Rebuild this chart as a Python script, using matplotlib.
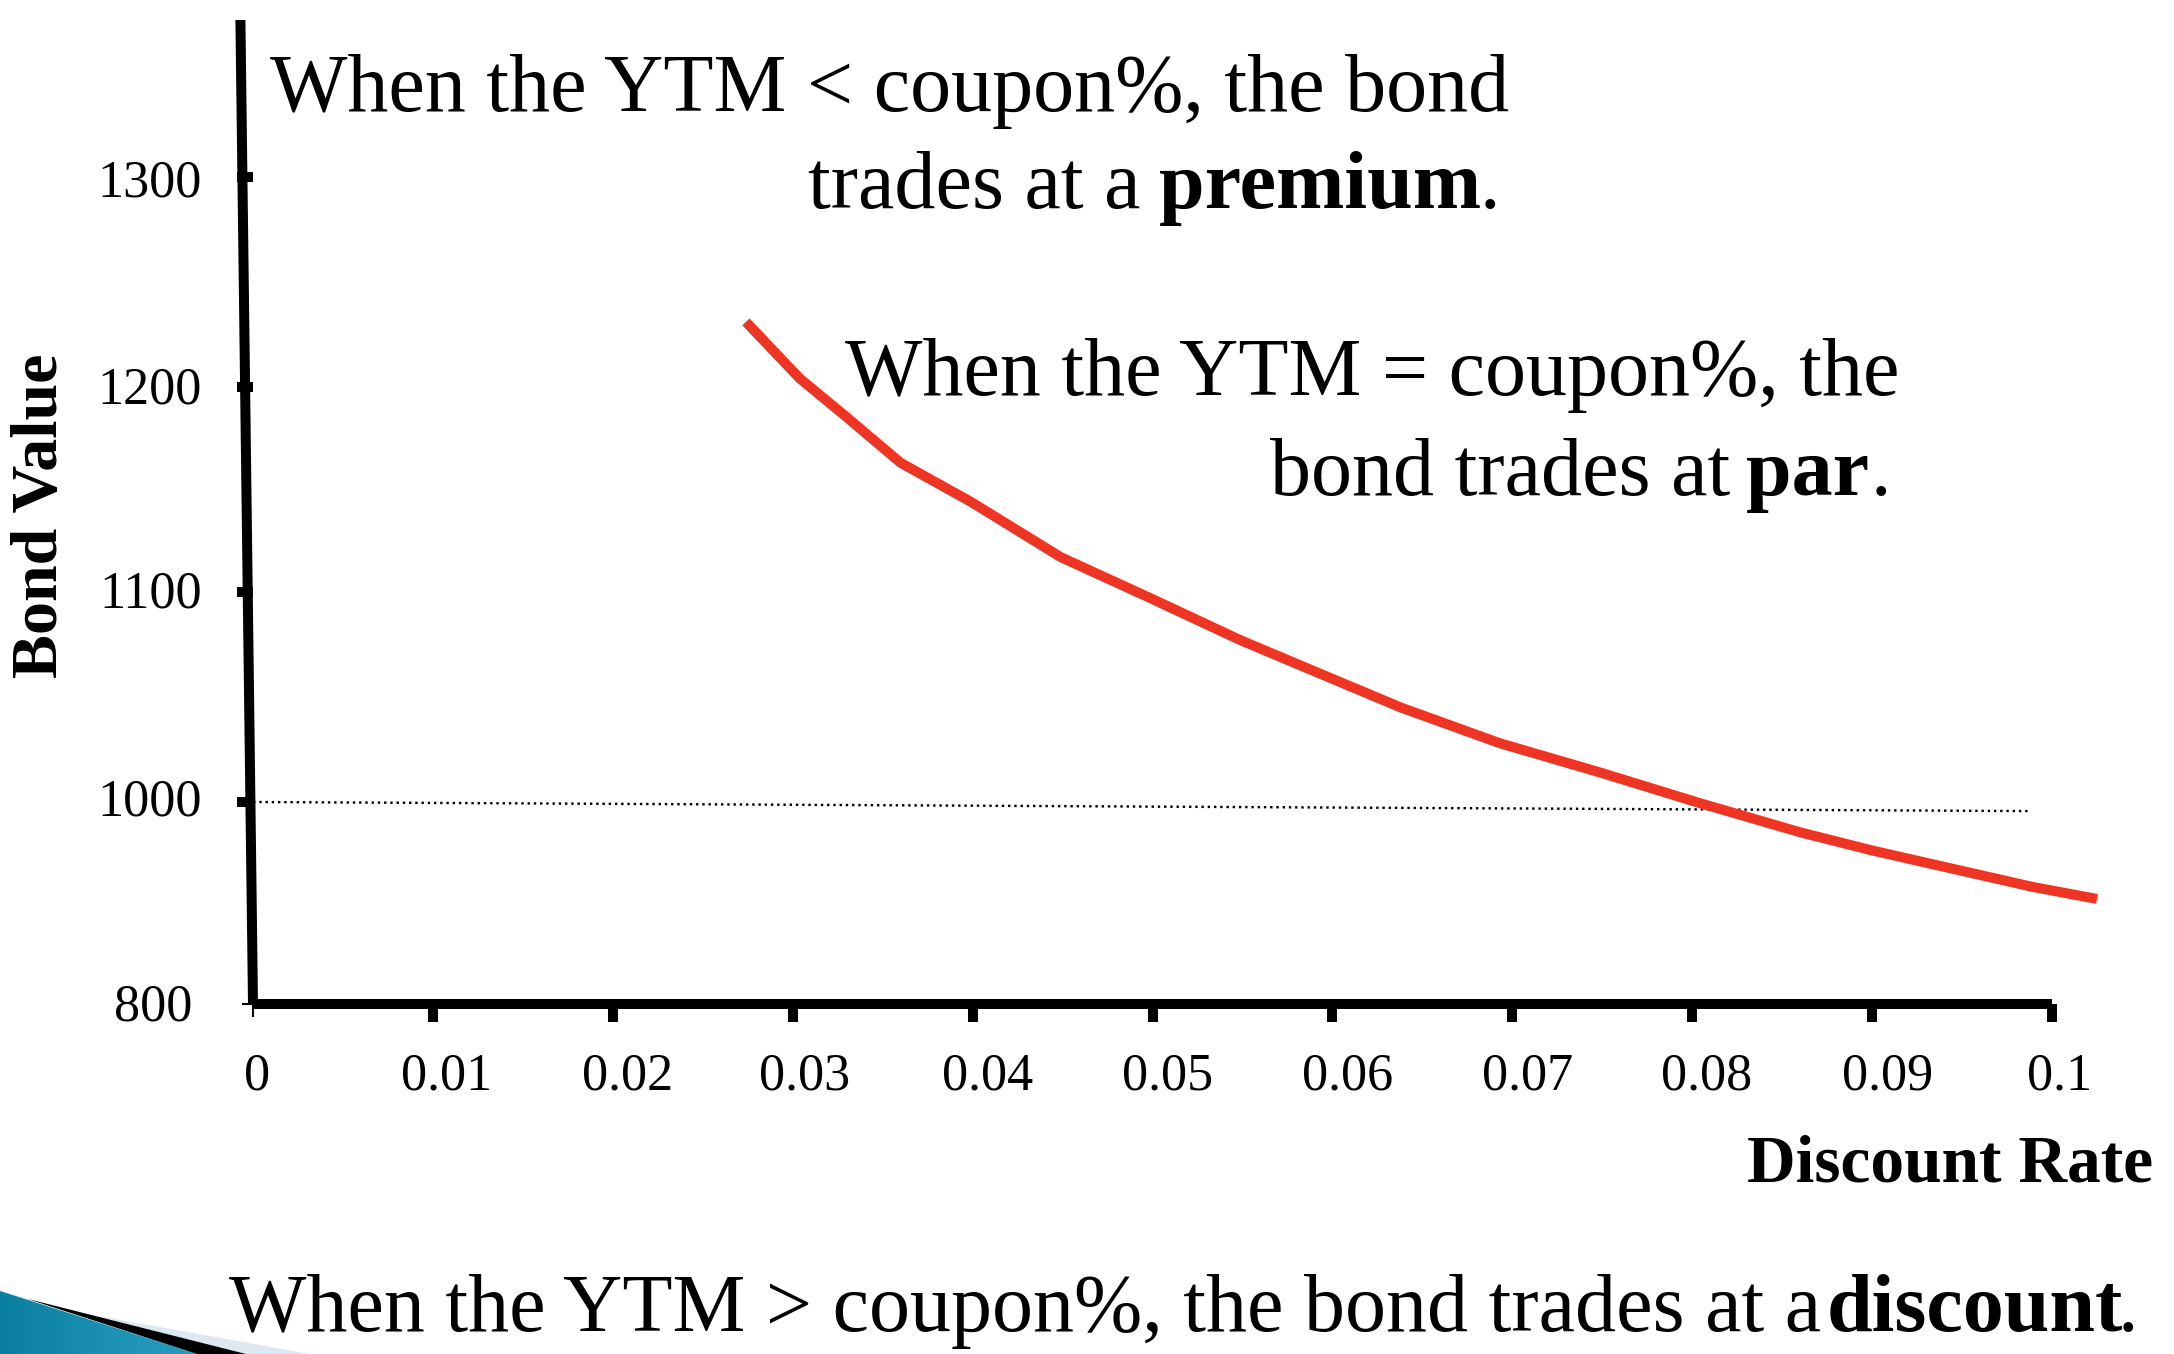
import matplotlib
matplotlib.use("Agg")
import matplotlib.pyplot as plt
import numpy as np
from matplotlib.patches import Polygon
from matplotlib.transforms import ScaledTranslation

plt.rcParams['font.family'] = ['Liberation Serif', 'DejaVu Sans']

# values
rate = [0.0274, 0.0304, 0.0329, 0.0360, 0.0399, 0.0449, 0.0499, 0.0549, 0.0599,
        0.0638, 0.0693, 0.0749, 0.0804, 0.0860, 0.0900, 0.0989, 0.1025]
bond_value = [1231, 1204, 1186, 1163, 1144, 1117, 1097, 1077, 1059,
              1045, 1028, 1014, 999, 970, 952, 916, 904]

par_rate = [0, 0.0987]
par_value = [1000, 991]

# the drawn y axis leans a little in the source
yaxis_rate = [-0.0007, 0.0]
yaxis_value = [1375, 800]

x_ticks = [0, 0.01, 0.02, 0.03, 0.04, 0.05, 0.06, 0.07, 0.08, 0.09, 0.1]
x_ticklabels = ['0', '0.01', '0.02', '0.03', '0.04', '0.05', '0.06', '0.07', '0.08', '0.09', '0.1']
y_ticks = [800, 1000, 1100, 1200, 1300]
y_ticklabels = ['800', '1000', '1100', '1200', '1300']

# y axis spacing is uneven: 800 sits one step under 1000
scale_values = [800, 1000, 1100, 1200, 1300, 1375]
scale_pixels = [0, 202, 412, 617, 827, 984]


def forward(v):
    return np.interp(v, scale_values, scale_pixels)


def inverse(p):
    return np.interp(p, scale_pixels, scale_values)


W, H = 2174, 1354
PT = 72 / 100  # points per pixel at dpi 100
fig = plt.figure(figsize=(W / 100, H / 100), dpi=100)

# page layer in pixel coordinates, for the slide text and corner decoration
page = fig.add_axes([0, 0, 1, 1], zorder=2)
page.set_xlim(0, W)
page.set_ylim(H, 0)
page.axis('off')
page.patch.set_alpha(0)

light = Polygon([(93, 1315), (310, 1354), (243, 1354)], closed=True, fc='#dce9f0', ec='none')
page.add_patch(light)
black = Polygon([(28, 1299), (246, 1354), (197, 1354), (0, 1290)], closed=True, fc='black', ec='none')
page.add_patch(black)
teal = Polygon([(0, 1291), (197, 1354), (0, 1354)], closed=True, fc='none', ec='none')
page.add_patch(teal)
grad = np.linspace(0, 1, 64).reshape(1, -1)
cmap = matplotlib.colors.LinearSegmentedColormap.from_list('slide', ['#0b7f9f', '#2b9fc2'])
im = page.imshow(grad, extent=(0, 200, H, 1285), cmap=cmap, aspect='auto')
im.set_clip_path(teal)
page.set_xlim(0, W)
page.set_ylim(H, 0)

# main chart
ax = fig.add_axes([253 / W, 1 - 1004 / H, (2052 - 253) / W, (1004 - 20) / H], zorder=1)
ax.set_yscale('function', functions=(forward, inverse))
ax.set_xlim(0, 0.1)
ax.set_ylim(800, 1375)
ax.patch.set_alpha(0)

for side in ['left', 'top', 'right']:
    ax.spines[side].set_visible(False)
ax.spines['bottom'].set_linewidth(10 * PT)
ax.spines['bottom'].set_capstyle('butt')

ax.plot(yaxis_rate, yaxis_value, color='black', lw=10 * PT, solid_capstyle='butt', clip_on=False)
ax.plot(par_rate, par_value, color='black', lw=2.4 * PT, ls=(0, (1, 1.6)), dash_capstyle='butt', clip_on=False)
ax.plot(rate, bond_value, color='#ee3524', lw=10 * PT, solid_capstyle='butt', solid_joinstyle='round', clip_on=False)

ax.set_xticks(x_ticks, x_ticklabels)
ax.set_yticks(y_ticks, y_ticklabels)
ax.tick_params(axis='x', length=18 * PT, width=10 * PT, pad=31 * PT, labelsize=37.5)
ax.tick_params(axis='y', length=16 * PT, width=10 * PT, pad=35 * PT, labelsize=37.5)

# thin stubs at the origin
ax.xaxis.get_major_ticks()[0].tick1line.set_markeredgewidth(1.5)
ax.xaxis.get_major_ticks()[0].tick1line.set_markersize(13 * PT)
ax.yaxis.get_major_ticks()[0].tick1line.set_markeredgewidth(1.5)
ax.yaxis.get_major_ticks()[0].tick1line.set_markersize(11 * PT)

# tick labels sit off-centre in the source (pixel nudges)
x_dx = [4, 14, 15, 12, 15, 15, 15, 15, 14, 15, 8]
for lab, dx in zip(ax.get_xticklabels(), x_dx):
    lab.set_transform(lab.get_transform() + ScaledTranslation(dx / 100, 0, fig.dpi_scale_trans))
y_dx = [-10, 0, 0, 0, 0]
y_dy = [2, 5, 3, 2, -1]
for lab, dx, dy in zip(ax.get_yticklabels(), y_dx, y_dy):
    lab.set_transform(lab.get_transform() + ScaledTranslation(dx / 100, dy / 100, fig.dpi_scale_trans))

# axis titles
page.text(41, 516, 'Bond Value', fontsize=47.5, fontweight='bold', rotation=90, ha='center', va='center')
page.text(2153, 1182, 'Discount Rate', fontsize=48.5, fontweight='bold', ha='right', va='baseline')

# slide text
BIG = 59
page.text(270, 111, 'When the YTM < coupon%, the bond', fontsize=BIG, va='baseline')
page.text(808, 208, 'trades at a', fontsize=BIG, va='baseline')
page.text(1159, 208, 'premium', fontsize=BIG, fontweight='bold', va='baseline')
page.text(1480, 208, '.', fontsize=BIG, va='baseline')
page.text(845, 395, 'When the YTM = coupon%, the', fontsize=BIG, va='baseline')
page.text(1270, 495, 'bond trades at', fontsize=BIG, va='baseline')
page.text(1746, 495, 'par', fontsize=BIG, fontweight='bold', va='baseline')
page.text(1871, 495, '.', fontsize=BIG, va='baseline')
page.text(229, 1331, 'When the YTM > coupon%, the bond trades at a', fontsize=BIG, va='baseline')
page.text(1827, 1331, 'discount', fontsize=BIG, fontweight='bold', va='baseline')
page.text(2118, 1331, '.', fontsize=BIG, va='baseline')

fig.savefig('out.png', dpi=100)
